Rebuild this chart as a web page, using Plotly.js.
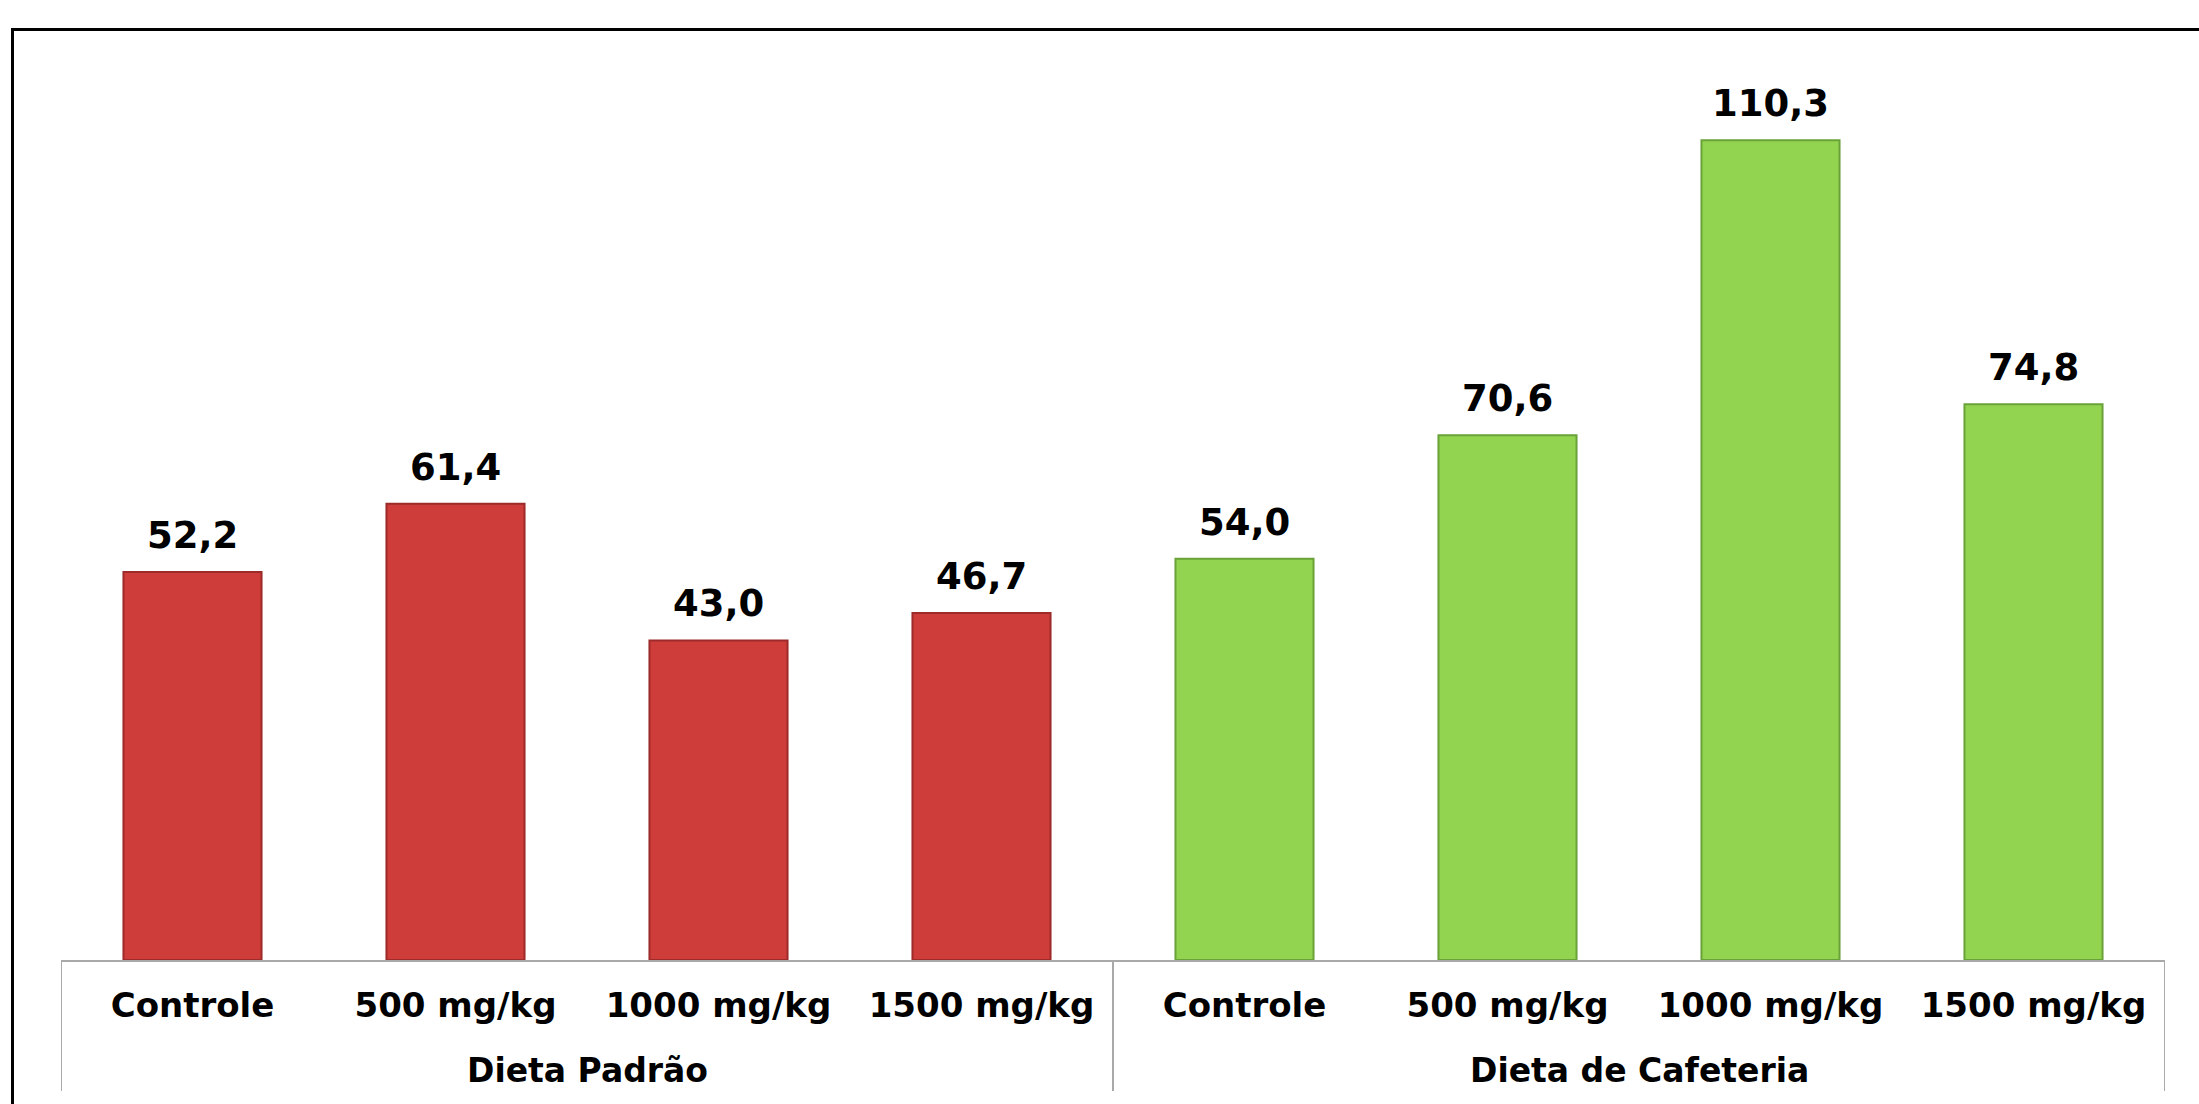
<!DOCTYPE html>
<html>
<head>
<meta charset="utf-8">
<script src="https://cdn.plot.ly/plotly-3.0.1.min.js"></script>
<style>
  html, body { margin: 0; padding: 0; background: #ffffff; overflow: hidden; }
  #chart { width: 2199px; height: 1104px; }
  #frame { position: absolute; left: 11px; top: 28px; width: 3000px; height: 3000px;
           border-left: 3px solid #000; border-top: 3px solid #000; pointer-events: none; }
</style>
</head>
<body>
<div id="chart"></div>
<div id="frame"></div>
<script>
// ---- data ----
const groups = ["Dieta Padrão", "Dieta de Cafeteria"];
const doses = ["Controle", "500 mg/kg", "1000 mg/kg", "1500 mg/kg"];
const valuesPadrao = [52.2, 61.4, 43.0, 46.7];
const valuesCafeteria = [54.0, 70.6, 110.3, 74.8];

// ---- styling ----
const redFill = "#cf3d3b", redLine = "#9c2b2a";
const greenFill = "#92d34f", greenLine = "#6aa23a";
const FAMILY = "DejaVu Sans, Liberation Sans, Arial, sans-serif";
const axisGray = "#a9a9a9";

// positions of each category on the x axis (one slot per dose, groups side by side)
const nPer = doses.length;
const xPadrao = doses.map((_, i) => i);
const xCafe = doses.map((_, i) => i + nPer);
const allX = xPadrao.concat(xCafe);
const allLabels = doses.concat(doses);

const traces = [
  { type: "bar", x: xPadrao, y: valuesPadrao, marker: { color: redFill, line: { color: redLine, width: 2 } },
    hoverinfo: "skip", showlegend: false },
  { type: "bar", x: xCafe, y: valuesCafeteria, marker: { color: greenFill, line: { color: greenLine, width: 2 } },
    hoverinfo: "skip", showlegend: false }
];

const fmt = v => v.toFixed(1).replace(".", ",");
const annotations = [];
xPadrao.forEach((x, i) => annotations.push({ x: x, y: valuesPadrao[i], xref: "x", yref: "y",
  text: fmt(valuesPadrao[i]), showarrow: false, yanchor: "bottom", yshift: 13,
  font: { family: FAMILY, size: 37, color: "#000", weight: "bold" } }));
xCafe.forEach((x, i) => annotations.push({ x: x, y: valuesCafeteria[i], xref: "x", yref: "y",
  text: fmt(valuesCafeteria[i]), showarrow: false, yanchor: "bottom", yshift: 13,
  font: { family: FAMILY, size: 37, color: "#000", weight: "bold" } }));

// group labels centred under each group
[xPadrao, xCafe].forEach((xs, g) => annotations.push({
  x: (xs[0] + xs[xs.length - 1]) / 2, xref: "x", y: -0.1196, yref: "paper",
  text: groups[g], showarrow: false, yanchor: "middle",
  font: { family: FAMILY, size: 33, color: "#000", weight: "bold" } }));

// group dividers (left edge, between groups, right edge)
const dividerX = [xPadrao[0] - 0.5, xCafe[0] - 0.5, xCafe[xCafe.length - 1] + 0.5];
const shapes = dividerX.map(x => ({ type: "line", xref: "x", yref: "paper", x0: x, x1: x, y0: 0, y1: -0.1424,
  line: { color: axisGray, width: 2 } }));

const layout = {
  width: 2199, height: 1104,
  margin: { l: 61, r: 34, t: 40, b: 144 },
  paper_bgcolor: "#ffffff", plot_bgcolor: "#ffffff",
  bargap: 0.475,
  showlegend: false,
  hovermode: false,
  xaxis: {
    range: [-0.5, 2 * nPer - 0.5],
    tickvals: allX, ticktext: allLabels,
    showline: true, linecolor: axisGray, linewidth: 2,
    showgrid: false, zeroline: false, ticks: "",
    ticklabelstandoff: 14,
    tickfont: { family: FAMILY, size: 34, color: "#000", weight: "bold" }
  },
  yaxis: {
    range: [0, 123.8],
    showticklabels: false, showgrid: false, zeroline: false, showline: false, ticks: ""
  },
  annotations: annotations,
  shapes: shapes
};

Plotly.newPlot("chart", traces, layout, { displayModeBar: false, staticPlot: true });
</script>
</body>
</html>
